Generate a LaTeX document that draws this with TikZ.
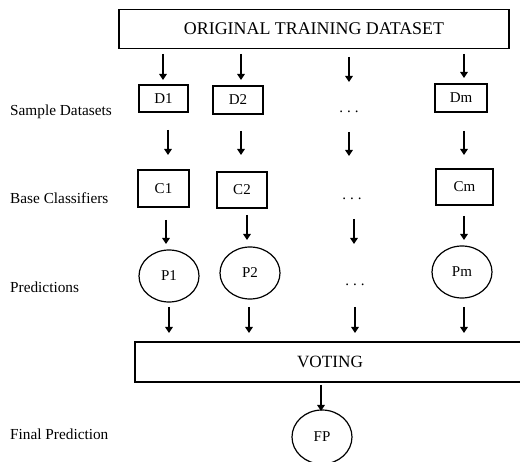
\documentclass[tikz,border=0pt]{standalone}
\usepackage{fontspec}
\setmainfont{Liberation Serif}
\usetikzlibrary{arrows.meta,shapes.geometric}
\newcommand{\spdots}{.\hspace{4pt}.\hspace{4pt}.}
\begin{document}
\begin{tikzpicture}[x=1pt,y=-1pt,
  box/.style={draw,line width=1.2pt,rectangle,inner sep=0pt,font=\fontsize{15}{15}\selectfont},
  oval/.style={draw,line width=1.2pt,ellipse,inner sep=0pt,minimum width=60pt,minimum height=52pt,font=\fontsize{15}{15}\selectfont},
  lbl/.style={anchor=west,inner sep=0pt,font=\fontsize{15.3}{15}\selectfont},
  dots/.style={inner sep=0pt,font=\fontsize{15}{15}\selectfont},
  arr/.style={line width=2.7pt,-{Triangle[length=6pt,width=7.5pt]}}]
\useasboundingbox (0,0) rectangle (520,462);
% main boxes
\node[box,minimum width=390pt,minimum height=39pt,font=\fontsize{17.9}{18}\selectfont] (top) at (314,29) {ORIGINAL TRAINING DATASET};
\node[box,minimum width=390pt,minimum height=40pt,font=\fontsize{17.2}{18}\selectfont] (vote) at (330,362) {VOTING};
% labels
\node[lbl] (l1) at (10,112) {Sample Datasets};
\node[lbl] (l2) at (10,198) {Base Classifiers};
\node[lbl] (l3) at (10,287) {Predictions};
\node[lbl] (l4) at (10,434) {Final Prediction};
% D row
\node[box,minimum width=49pt,minimum height=27pt] (D1) at (163.5,98.5) {D1};
\node[box,minimum width=50pt,minimum height=28pt] (D2) at (238,100) {D2};
\node[dots] (Dd) at (349,112) {\spdots};
\node[box,minimum width=52pt,minimum height=28pt] (Dm) at (461,98) {Dm};
% C row
\node[box,minimum width=51pt,minimum height=37pt] (C1) at (163.5,188.5) {C1};
\node[box,minimum width=50pt,minimum height=36pt] (C2) at (242,190) {C2};
\node[dots] (Cd) at (352,199) {\spdots};
\node[box,minimum width=57pt,minimum height=36pt] (Cm) at (464.5,187) {Cm};
% P row
\node[oval] (P1) at (169,276) {P1};
\node[oval] (P2) at (250,273) {P2};
\node[dots] (Pd) at (355,285) {\spdots};
\node[oval] (Pm) at (462,272) {Pm};
% FP
\node[oval,minimum height=54pt] (FP) at (322,437) {FP};
% arrow end points
\foreach \n/\x/\ya/\yb in {a1/163/54/80, a2/241/54/80, a3/349/57/82, a4/464/54/78,
  b1/168/130/155, b2/241/131/155, b3/349/132/156, b4/464/131/155,
  c1/166/220/244, c2/247/215/240, c3/354/219/244, c4/464/216/240,
  d1/169/307/333, d2/249/307/333, d3/355/307/333, d4/464/307/333,
  e1/321/385/411}{
  \coordinate (\n s) at (\x,\ya);
  \coordinate (\n e) at (\x,\yb);
  \draw[arr] (\n s) -- (\n e);
}
\end{tikzpicture}
\end{document}
